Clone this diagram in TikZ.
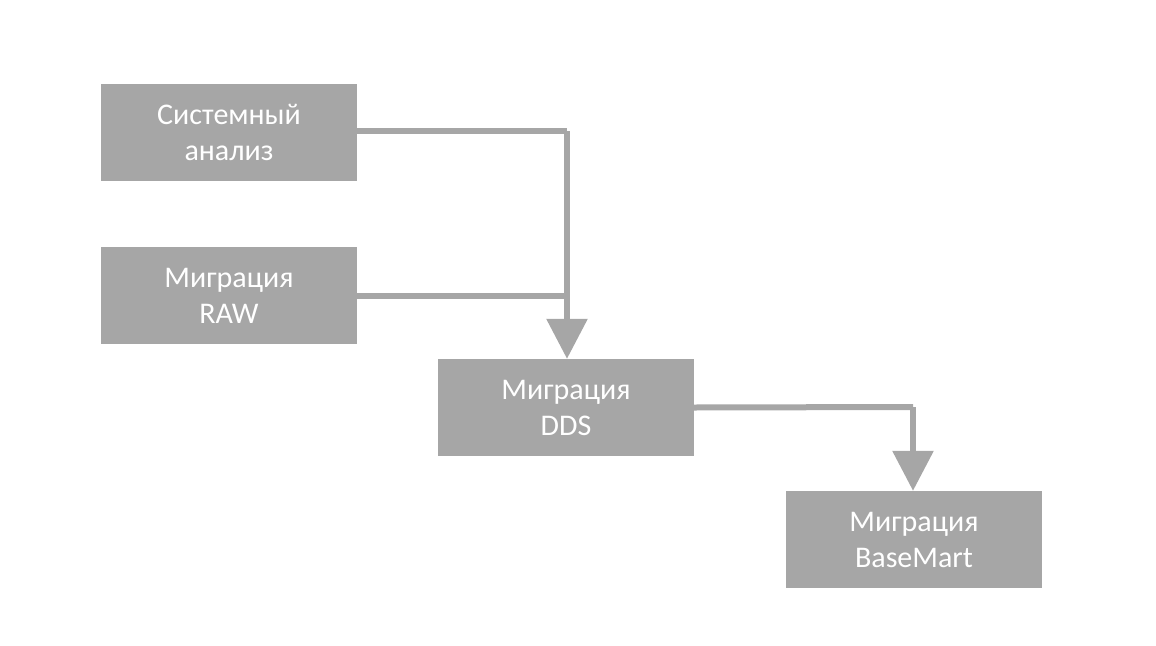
\documentclass[tikz,border=0pt]{standalone}
\usepackage{fontspec}
\setmainfont{Carlito}
\usetikzlibrary{arrows.meta}
\definecolor{boxgrey}{HTML}{A6A6A6}
\tikzset{
  stagebox/.style={fill=boxgrey, text=white, minimum width=256pt, minimum height=97pt,
    inner sep=0pt, align=center, font=\fontsize{30}{36}\selectfont},
  flow/.style={draw=boxgrey, line width=6pt},
  flowarrow/.style={flow, -{Triangle[width=40pt,length=40pt]}}
}
\begin{document}
\begin{tikzpicture}[x=1pt,y=-1pt]
  \useasboundingbox (0,0) rectangle (1156,645);

  % stages
  \node[stagebox] (sa)   at (229,132.5) {Системный\\анализ};
  \node[stagebox] (raw)  at (229,295.5) {Миграция\\RAW};
  \node[stagebox] (dds)  at (566,407.5) {Миграция\\DDS};
  \node[stagebox] (bm)   at (914,539.5) {Миграция\\BaseMart};

  % junctions
  \coordinate (j1) at (567,131);
  \coordinate (j2) at (913,407);

  % connectors
  \draw[flow] (sa.east |- j1) -- (j1);
  \draw[flow] (raw.east) -- (raw.east -| j1);
  \draw[flowarrow] (j1) -- (j1 |- dds.north);
  \draw[flow] (dds.east) -- (j2);
  \draw[flowarrow] (j2) -- (j2 |- bm.north);
\end{tikzpicture}
\end{document}
